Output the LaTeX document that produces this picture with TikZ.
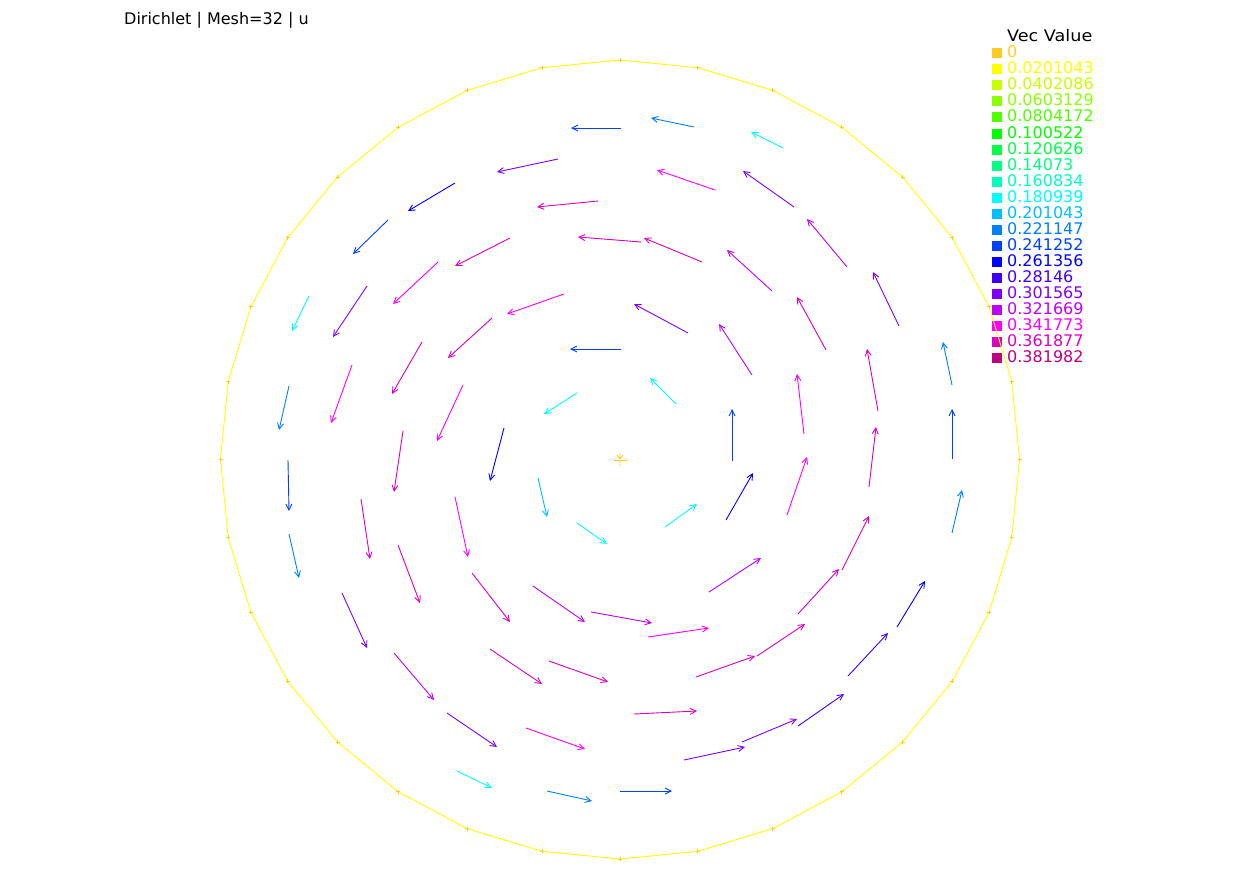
\documentclass[tikz,border=0pt]{standalone}
\usepackage{fontspec}
\setmainfont{DejaVu Sans}
\usetikzlibrary{arrows.meta}
\definecolor{c0}{RGB}{255,204,38}
\definecolor{c1}{RGB}{255,255,0}
\definecolor{c2}{RGB}{200,255,0}
\definecolor{c3}{RGB}{140,255,0}
\definecolor{c4}{RGB}{80,255,0}
\definecolor{c5}{RGB}{0,255,0}
\definecolor{c6}{RGB}{0,255,70}
\definecolor{c7}{RGB}{0,255,130}
\definecolor{c8}{RGB}{0,255,190}
\definecolor{c9}{RGB}{0,255,255}
\definecolor{c10}{RGB}{0,190,255}
\definecolor{c11}{RGB}{0,128,255}
\definecolor{c12}{RGB}{0,64,255}
\definecolor{c13}{RGB}{0,0,255}
\definecolor{c14}{RGB}{64,0,255}
\definecolor{c15}{RGB}{128,0,255}
\definecolor{c16}{RGB}{190,0,255}
\definecolor{c17}{RGB}{255,0,255}
\definecolor{c18}{RGB}{220,0,190}
\definecolor{c19}{RGB}{190,0,130}

\begin{document}
\begin{tikzpicture}[
    x=1pt, y=-1pt,
    >={Straight Barb[length=6pt,width=6pt]},
    font=\fontsize{16}{19}\selectfont,
    vec/.style={->, line width=0.9pt},
    boundary/.style={draw=c1, line width=0.9pt},
    vertex/.style={draw=c0, line width=0.9pt},
    legend/.style={anchor=base west, inner sep=0pt}
  ]
  \useasboundingbox (0,0) rectangle (1242,877);

  % title and legend
  \node [legend] (title) at (124,24.5) {Dirichlet | Mesh=32 | u};
  \node [legend, xscale=1.1] (vecvalue) at (1007,42) {Vec Value};
  \foreach \v [count=\i from 0] in {0,0.0201043,0.0402086,0.0603129,0.0804172,0.100522,0.120626,0.14073,0.160834,0.180939,0.201043,0.221147,0.241252,0.261356,0.28146,0.301565,0.321669,0.341773,0.361877,0.381982} {
    \fill [c\i] (992,{48.3+16.05*\i}) rectangle +(10,10);
    \node [legend, text=c\i] (val\i) at (1007,{57.8+16.05*\i}) {\v};
  }

  % boundary of the disc
  \begin{scope}[shift={(620,459.5)}]
    \draw [boundary] (0:399.5) \foreach \k in {1,...,31} { -- (\k*11.25:399.5)} -- cycle;
    \foreach \k in {0,...,31}
      \draw [vertex] (\k*11.25:399.5) +(-2,0) -- +(2,0) +(0,-2) -- +(0,2);
  \end{scope}

  % centre
  \draw [vertex] (614,460.5) -- (627,460.5) (620,453) -- (620,466)
    (617,455) -- (620,459) -- (623,455);

  % the vectors
  \foreach \xa/\ya/\xb/\yb/\col in {
    621/128/571/128/c12, 694/127/651/118/c11, 783/148/751/132/c9,
    558/159/497/172/c15, 715/190/657/170/c17, 794/207/743/171/c15,
    455/183/408/211/c13, 598/201/537/207/c18, 847/267/807/219/c16,
    388/220/353/254/c12, 510/238/455/266/c18, 641/242/578/237/c18,
    702/262/644/238/c18, 899/326/873/272/c15, 438/262/393/304/c17,
    772/291/727/250/c16, 826/350/797/297/c18, 309/296/292/331/c9,
    367/286/333/337/c15, 564/294/507/314/c17, 688/333/634/304/c15,
    752/375/719/324/c16, 878/411/867/349/c18, 952/385/943/342/c11,
    492/318/448/358/c18, 621/349/570/349/c12, 804/434/797/374/c17,
    422/342/392/394/c18, 352/365/331/423/c17, 676/404/650/378/c9,
    577/393/544/414/c9, 289/386/279/430/c11, 463/385/437/441/c17,
    504/428/490/481/c13, 732/461/732/409/c12, 952/459/952/409/c12,
    403/431/394/492/c18, 869/487/876/427/c18, 787/515/807/457/c17,
    288/460/289/511/c12, 538/478/547/517/c10, 726/520/753/473/c13,
    952/533/962/490/c11, 361/499/370/559/c18, 455/497/468/557/c17,
    577/523/607/544/c9, 665/527/697/504/c9, 289/534/299/578/c11,
    398/545/420/603/c18, 842/570/869/516/c18, 342/593/367/648/c15,
    472/573/510/622/c18, 533/586/585/622/c16, 709/592/761/558/c16,
    798/614/839/569/c18, 897/627/925/581/c13, 591/612/652/623/c16,
    648/637/709/628/c17, 757/656/805/624/c18, 394/653/434/700/c16,
    490/649/542/684/c18, 549/661/608/682/c18, 696/677/755/656/c18,
    848/676/888/633/c14, 634/714/697/711/c18, 798/726/844/694/c14,
    447/713/497/747/c15, 526/728/585/749/c17, 684/760/745/747/c15,
    742/742/797/719/c15, 457/771/492/788/c9, 547/791/592/801/c11,
    620/791/672/791/c12}
    \draw [vec, \col] (\xa,\ya) -- (\xb,\yb);

\end{tikzpicture}
\end{document}
